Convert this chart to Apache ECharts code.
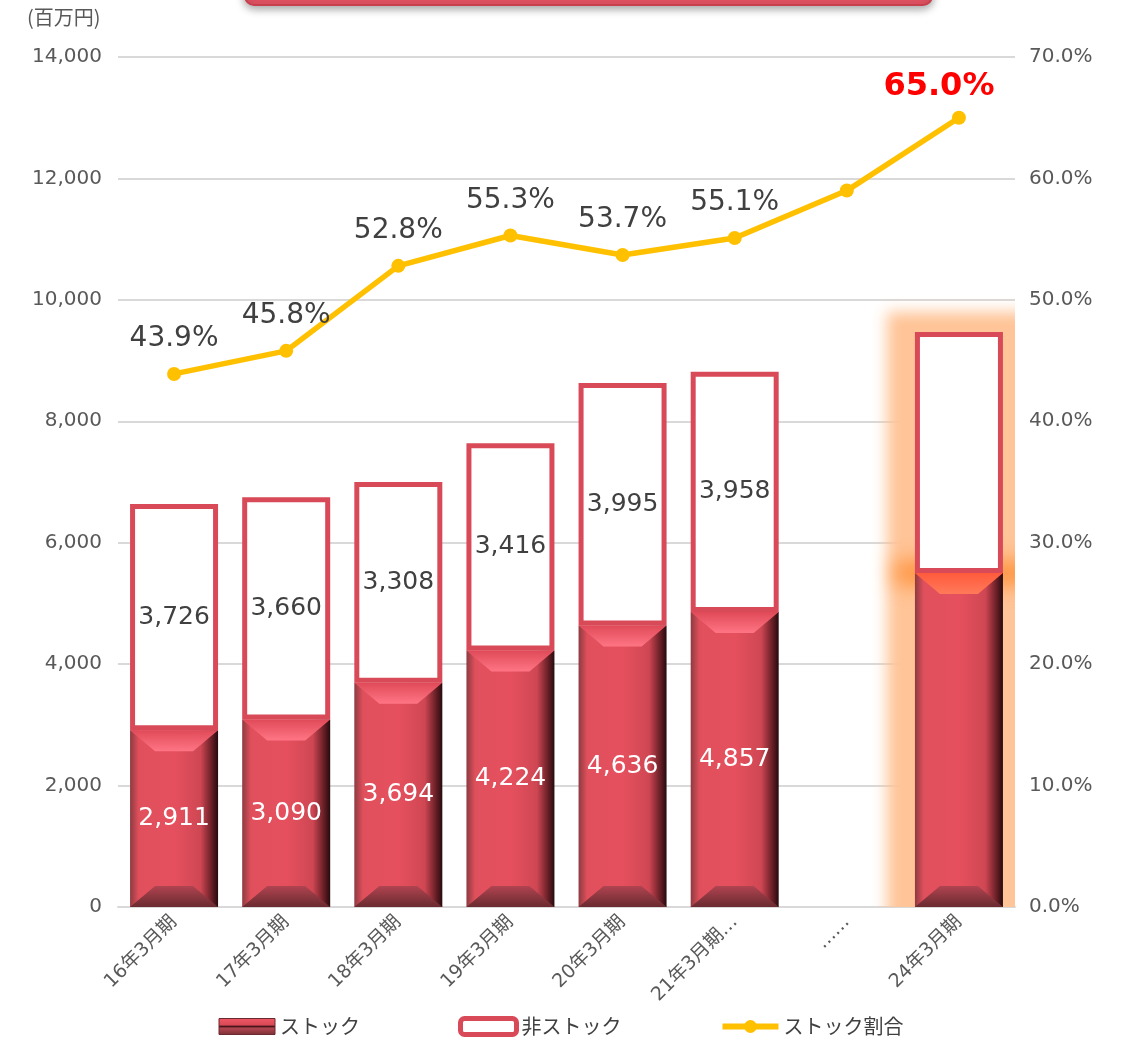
<!DOCTYPE html>
<html><head><meta charset="utf-8">
<script src="https://cdn.jsdelivr.net/npm/echarts@6/dist/echarts.min.js"></script>
<style>html,body{margin:0;padding:0;background:#fff;}#c{width:1122px;height:1039px;}</style>
</head><body><div id="c"></div>
<script>
const categories = ['16年3月期','17年3月期','18年3月期','19年3月期','20年3月期','21年3月期…','……','24年3月期'];
const stockValues = [2911, 3090, 3694, 4224, 4636, 4857, null, 5500];
const nonStockValues = [3726, 3660, 3308, 3416, 3995, 3958, null, 3970];
const stockRatio = [43.9, 45.8, 52.8, 55.3, 53.7, 55.1, 59.0, 65.0];
const showBarLabel = [true, true, true, true, true, true, false, false];
const showRatioLabel = [true, true, true, true, true, true, false, true];
const highlighted = [false, false, false, false, false, false, false, true];
const leftTicks = {min: 0, max: 14000, interval: 2000};
const rightTicks = {min: 0, max: 70, interval: 10};

const FONT = '"DejaVu Sans", "Noto Sans CJK JP", sans-serif';
const JFONT = '"Noto Sans CJK JP", "DejaVu Sans", sans-serif';
const BAR_W = 88;
const stockGrad = new echarts.graphic.LinearGradient(0,0,1,0,[
  {offset:0,color:'#8e3a41'},{offset:0.1,color:'#e0505c'},{offset:0.5,color:'#e6505e'},
  {offset:0.8,color:'#cf4753'},{offset:0.92,color:'#6e2129'},{offset:1,color:'#260b0d'}]);
const legendStockGrad = new echarts.graphic.LinearGradient(0,0,0,1,[
  {offset:0,color:'#ef5866'},{offset:0.4,color:'#dc4a57'},{offset:0.5,color:'#4a161b'},
  {offset:0.6,color:'#b24550'},{offset:1,color:'#7a2f35'}]);

const chart = echarts.init(document.getElementById('c'));

const bevelData = categories.map((c,i)=>[i, stockValues[i] == null ? 0 : stockValues[i], highlighted[i] ? 1 : 0]);
const glowData = categories.map((c,i)=>[i, highlighted[i] ? (stockValues[i] + nonStockValues[i]) : 0, highlighted[i] ? stockValues[i] : 0]);

function renderBevel(params, api){
  const v = api.value(1);
  if (!v) return null;
  const top = api.coord([api.value(0), v]);
  const bot = api.coord([api.value(0), 0]);
  const l = top[0] - BAR_W/2, r = top[0] + BAR_W/2;
  const dx = 25, dy = 21;
  const hl = api.value(2) === 1;
  return {type:'group', children:[
    {type:'polygon', shape:{points:[[l,top[1]],[r,top[1]],[r-dx,top[1]+dy],[l+dx,top[1]+dy]]},
      style:{fill: new echarts.graphic.LinearGradient(0,0,0,1,[{offset:0,color: hl?'#ff5a3c':'#e04a58'},{offset:1,color: hl?'#ff7a5a':'#ff7584'}])}},
    {type:'polygon', shape:{points:[[l,bot[1]],[r,bot[1]],[r-dx,bot[1]-dy],[l+dx,bot[1]-dy]]},
      style:{fill: new echarts.graphic.LinearGradient(0,0,0,1,[{offset:0,color:'#b04450'},{offset:1,color:'#6a2a30'}])}}
  ]};
}
// soft glow: draw the shape far off-canvas and cast only its blurred shadow into place
const OFF = 4000;
function renderGlow(params, api){
  const total = api.value(1);
  if (!total) return null;
  const top = api.coord([api.value(0), total]);
  const mid = api.coord([api.value(0), api.value(2)]);
  const bot = api.coord([api.value(0), 0]);
  const l = top[0] - BAR_W/2 - 28, r = top[0] + BAR_W/2 + 32;
  return {type:'group', children:[
    {type:'rect', shape:{x:l - OFF, y:top[1]-20, width:r-l, height:bot[1]-top[1]+60},
      style:{fill:'#ffc59a', shadowBlur:14, shadowColor:'#ffc497', shadowOffsetX:OFF}},
    {type:'rect', shape:{x:l + 8 - OFF, y:mid[1]-12, width:r-l-8, height:24},
      style:{fill:'#ff9440', shadowBlur:20, shadowColor:'#ff9440', shadowOffsetX:OFF}}
  ]};
}

chart.setOption({
  animation:false,
  textStyle:{fontFamily:FONT},
  graphic:[
    {type:'rect', shape:{x:245, y:-40, width:687, height:45, r:9}, z:10,
      style:{fill:'#e05262', stroke:'#c8404e', lineWidth:2, shadowBlur:8, shadowOffsetY:3, shadowColor:'rgba(0,0,0,0.35)'}},
    {type:'text', left:27, top:7, style:{text:'(百万円)', font:'20px '+JFONT, fill:'#595959'}}
  ],
  grid:{left:118, right:107, top:57, bottom:132},
  legend:{
    bottom:-3, left:'center', itemGap:98, itemWidth:56, itemHeight:16,
    textStyle:{fontSize:20, color:'#404040', fontFamily:JFONT},
    data:[
      {name:'ストック', icon:'rect', itemStyle:{color:legendStockGrad, borderColor:'#6a2a30', borderWidth:1}},
      {name:'非ストック', icon:'roundRect', itemStyle:{color:'#fff', borderColor:'#d94a58', borderWidth:5}},
      {name:'ストック割合', lineStyle:{width:6, color:'#ffc000'}, itemStyle:{color:'#ffc000'}}
    ]
  },
  xAxis:{
    type:'category', data:categories,
    axisLine:{lineStyle:{color:'#d9d9d9', width:2}},
    axisTick:{show:false},
    axisLabel:{rotate:45, fontSize:19, color:'#595959', margin:12, interval:0, fontFamily:FONT}
  },
  yAxis:[
    {type:'value', min:leftTicks.min, max:leftTicks.max, interval:leftTicks.interval,
      axisLine:{show:false}, axisTick:{show:false},
      axisLabel:{fontSize:20, color:'#595959', margin:16, formatter:v=>v.toLocaleString('en-US')},
      splitLine:{lineStyle:{color:'#d9d9d9', width:2}}},
    {type:'value', min:rightTicks.min, max:rightTicks.max, interval:rightTicks.interval,
      axisLine:{show:false}, axisTick:{show:false},
      axisLabel:{fontSize:20, color:'#595959', margin:14, formatter:v=>v.toFixed(1)+'%'},
      splitLine:{show:false}}
  ],
  series:[
    {type:'custom', name:'glow', renderItem:renderGlow, data:glowData, z:1, silent:true, clip:true,
      encode:{x:0,y:1}},
    {type:'bar', name:'ストック', stack:'s', barWidth:BAR_W, z:2,
      itemStyle:{color:stockGrad},
      data:stockValues.map((v,i)=>({value:v, label:{show:showBarLabel[i]}})),
      label:{position:'inside', color:'#fff', fontSize:25, fontFamily:FONT, formatter:p=>p.value.toLocaleString('en-US')}},
    {type:'bar', name:'非ストック', stack:'s', barWidth:BAR_W, z:2,
      itemStyle:{color:'#fff', borderColor:'#d94a58', borderWidth:5},
      data:nonStockValues.map((v,i)=>({value:v, label:{show:showBarLabel[i]}})),
      label:{position:'inside', color:'#404040', fontSize:25, fontFamily:FONT, formatter:p=>p.value.toLocaleString('en-US')}},
    {type:'custom', name:'bevel', renderItem:renderBevel, data:bevelData, z:3, silent:true,
      encode:{x:0,y:1}},
    {type:'line', name:'ストック割合', yAxisIndex:1, z:5,
      symbol:'circle', symbolSize:14,
      lineStyle:{color:'#ffc000', width:5.5}, itemStyle:{color:'#ffc000'},
      data:stockRatio.map((v,i)=>({value:v, label: highlighted[i]
        ? {show:showRatioLabel[i], color:'#ff0000', fontSize:32, fontWeight:'bold', distance:8, offset:[-20,0]}
        : {show:showRatioLabel[i]}})),
      label:{position:'top', distance:14, color:'#404040', fontSize:28, fontFamily:FONT, formatter:p=>p.value.toFixed(1)+'%'}}
  ]
});
</script>
</body></html>
